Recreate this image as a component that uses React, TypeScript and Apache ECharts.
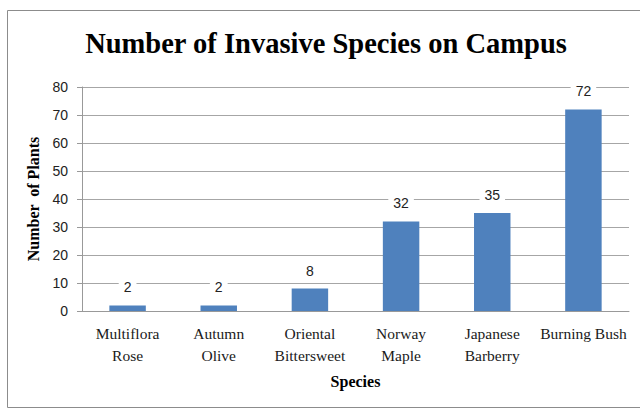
import React, { useEffect, useRef } from "react";
import * as echarts from "echarts";

const categories = [
  "Multiflora\nRose",
  "Autumn\nOlive",
  "Oriental\nBittersweet",
  "Norway\nMaple",
  "Japanese\nBarberry",
  "Burning Bush",
];
const values = [2, 2, 8, 32, 35, 72];
const yTicks = { min: 0, max: 80, interval: 10 };

export default function App() {
  const ref = useRef<HTMLDivElement>(null);
  useEffect(() => {
    if (!ref.current) return;
    const chart = echarts.init(ref.current, undefined, { renderer: "svg" });
    const serif = "'Liberation Serif', 'Times New Roman', serif";
    const sans = "'Liberation Sans', Arial, sans-serif";
    chart.setOption({
      animation: false,
      backgroundColor: "#fff",
      title: {
        text: "Number of Invasive Species on Campus",
        left: 321,
        textAlign: "center",
        top: 24,
        textStyle: {
          fontFamily: serif,
          fontWeight: "bold",
          fontSize: 28.5,
          color: "#000",
        },
      },
      graphic: [
        {
          type: "rect",
          shape: { x: 7.5, y: 10.5, width: 640, height: 397 },
          style: { fill: "none", stroke: "#8c8c8c", lineWidth: 1 },
          silent: true,
          z: -1,
        },
      ],
      grid: { left: 82, right: 11, top: 87, bottom: 99 },
      xAxis: {
        type: "category",
        data: categories,
        name: "Species",
        nameLocation: "middle",
        nameGap: 62,
        nameTextStyle: {
          fontFamily: serif,
          fontWeight: "bold",
          fontSize: 16,
          color: "#000",
          verticalAlign: "top",
        },
        axisLine: { lineStyle: { color: "#999", width: 1 } },
        axisTick: { show: false },
        axisLabel: {
          fontFamily: serif,
          fontSize: 15.5,
          lineHeight: 22,
          color: "#1a1a1a",
          margin: 11,
          interval: 0,
        },
      },
      yAxis: {
        type: "value",
        min: yTicks.min,
        max: yTicks.max,
        interval: yTicks.interval,
        name: "Number  of Plants",
        nameLocation: "middle",
        nameGap: 37,
        nameRotate: 90,
        nameTextStyle: {
          fontFamily: serif,
          fontWeight: "bold",
          fontSize: 16,
          color: "#000",
        },
        axisLine: { show: true, lineStyle: { color: "#999", width: 1 } },
        axisTick: { show: true, length: 5, lineStyle: { color: "#999" } },
        axisLabel: {
          fontFamily: sans,
          fontSize: 14,
          color: "#222",
          margin: 14,
        },
        splitLine: { lineStyle: { color: "#a6a6a6", width: 1 } },
      },
      series: [
        {
          type: "bar",
          data: values,
          barWidth: "40%",
          itemStyle: { color: "#4F81BD" },
          label: {
            show: true,
            position: "top",
            distance: 10,
            fontFamily: sans,
            fontSize: 14,
            color: "#222",
            backgroundColor: "#fff",
            padding: [1, 5],
          },
        },
      ],
    });
    return () => chart.dispose();
  }, []);
  return (
    <div
      ref={ref}
      style={{ position: "fixed", left: 0, top: 0, width: 640, height: 410 }}
    />
  );
}
